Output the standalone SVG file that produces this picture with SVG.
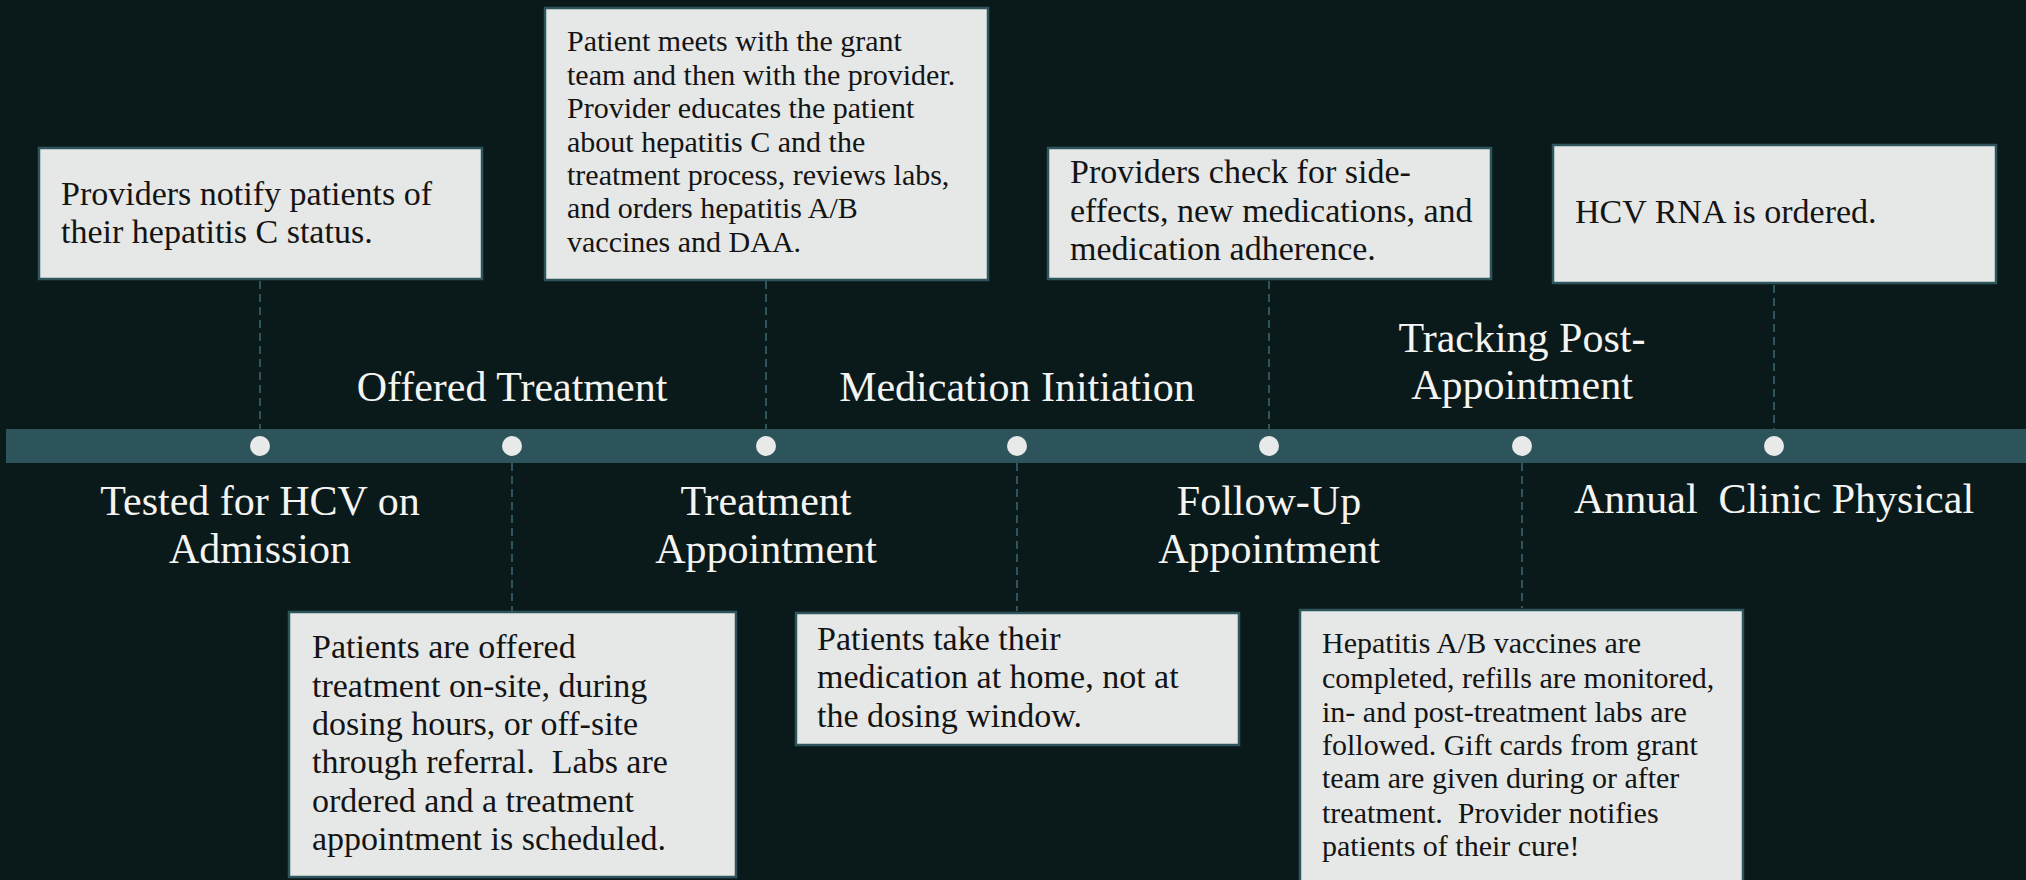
<svg xmlns="http://www.w3.org/2000/svg" width="2026" height="880" viewBox="0 0 2026 880">
  <style>
    .card { fill: #e6e8e7; stroke: #2f555c; stroke-width: 2.5; }
    .body { font-family: "Liberation Serif", "DejaVu Serif", serif; fill: #141414; }
    .b34 { font-size: 34px; }
    .b30 { font-size: 30px; }
    .stage { font-family: "Liberation Serif", "DejaVu Serif", serif; font-size: 42px; fill: #f4f4f2; text-anchor: middle; }
    .tick { stroke: #2f555c; stroke-width: 2; stroke-dasharray: 8 5; fill: none; }
    .dot { fill: #e8eaea; }
  </style>

  <!-- backdrop -->
  <rect x="0" y="0" width="2026" height="880" fill="#0a1a1a"/>

  <!-- timeline bar -->
  <rect id="timeline" x="6" y="429" width="2020" height="34" fill="#2e545b"/>

  <!-- dashed ticks from cards to the bar -->
  <g id="connectors">
    <line class="tick" x1="260" y1="281" x2="260" y2="429"/>
    <line class="tick" x1="512" y1="463" x2="512" y2="611"/>
    <line class="tick" x1="766" y1="281" x2="766" y2="429"/>
    <line class="tick" x1="1017" y1="463" x2="1017" y2="611"/>
    <line class="tick" x1="1269" y1="281" x2="1269" y2="429"/>
    <line class="tick" x1="1522" y1="463" x2="1522" y2="608"/>
    <line class="tick" x1="1774" y1="285" x2="1774" y2="429"/>
  </g>

  <!-- stage markers -->
  <g id="markers">
    <circle class="dot" cx="260" cy="446" r="10"/>
    <circle class="dot" cx="512" cy="446" r="10"/>
    <circle class="dot" cx="766" cy="446" r="10"/>
    <circle class="dot" cx="1017" cy="446" r="10"/>
    <circle class="dot" cx="1269" cy="446" r="10"/>
    <circle class="dot" cx="1522" cy="446" r="10"/>
    <circle class="dot" cx="1774" cy="446" r="10"/>
  </g>

  <!-- stage titles -->
  <g id="stage-tested">
    <text class="stage" x="260" y="515">Tested for HCV on</text>
    <text class="stage" x="260" y="563">Admission</text>
  </g>
  <g id="stage-offered">
    <text class="stage" x="512" y="401">Offered Treatment</text>
  </g>
  <g id="stage-appointment">
    <text class="stage" x="766" y="515">Treatment</text>
    <text class="stage" x="766" y="563">Appointment</text>
  </g>
  <g id="stage-initiation">
    <text class="stage" x="1017" y="401">Medication Initiation</text>
  </g>
  <g id="stage-followup">
    <text class="stage" x="1269" y="515">Follow-Up</text>
    <text class="stage" x="1269" y="563">Appointment</text>
  </g>
  <g id="stage-tracking">
    <text class="stage" x="1522" y="352">Tracking Post-</text>
    <text class="stage" x="1522" y="399">Appointment</text>
  </g>
  <g id="stage-annual">
    <text class="stage" x="1774" y="513" xml:space="preserve">Annual  Clinic Physical</text>
  </g>

  <!-- description cards -->
  <g id="card-notify">
    <rect class="card" x="39" y="148" width="443" height="131"/>
    <text class="body b34" x="61" y="205">Providers notify patients of</text>
    <text class="body b34" x="61" y="243">their hepatitis C status.</text>
  </g>

  <g id="card-education">
    <rect class="card" x="545" y="8" width="443" height="272"/>
    <text class="body b30" x="567" y="51">Patient meets with the grant</text>
    <text class="body b30" x="567" y="85">team and then with the provider.</text>
    <text class="body b30" x="567" y="118">Provider educates the patient</text>
    <text class="body b30" x="567" y="152">about hepatitis C and the</text>
    <text class="body b30" x="567" y="185">treatment process, reviews labs,</text>
    <text class="body b30" x="567" y="218">and orders hepatitis A/B</text>
    <text class="body b30" x="567" y="252">vaccines and DAA.</text>
  </g>

  <g id="card-sideeffects">
    <rect class="card" x="1048" y="148" width="443" height="131"/>
    <text class="body b34" x="1070" y="183">Providers check for side-</text>
    <text class="body b34" x="1070" y="222">effects, new medications, and</text>
    <text class="body b34" x="1070" y="260">medication adherence.</text>
  </g>

  <g id="card-rna">
    <rect class="card" x="1553" y="145" width="443" height="138"/>
    <text class="body b34" x="1575" y="223">HCV RNA is ordered.</text>
  </g>

  <g id="card-offered">
    <rect class="card" x="289" y="612" width="447" height="265"/>
    <text class="body b34" x="312" y="658">Patients are offered</text>
    <text class="body b34" x="312" y="697">treatment on-site, during</text>
    <text class="body b34" x="312" y="735">dosing hours, or off-site</text>
    <text class="body b34" x="312" y="773" xml:space="preserve">through referral.  Labs are</text>
    <text class="body b34" x="312" y="812">ordered and a treatment</text>
    <text class="body b34" x="312" y="850">appointment is scheduled.</text>
  </g>

  <g id="card-home">
    <rect class="card" x="796" y="613" width="443" height="132"/>
    <text class="body b34" x="817" y="650">Patients take their</text>
    <text class="body b34" x="817" y="688">medication at home, not at</text>
    <text class="body b34" x="817" y="727">the dosing window.</text>
  </g>

  <g id="card-tracking">
    <rect class="card" x="1300" y="610" width="443" height="280"/>
    <text class="body b30" x="1322" y="653">Hepatitis A/B vaccines are</text>
    <text class="body b30" x="1322" y="688">completed, refills are monitored,</text>
    <text class="body b30" x="1322" y="722">in- and post-treatment labs are</text>
    <text class="body b30" x="1322" y="755">followed. Gift cards from grant</text>
    <text class="body b30" x="1322" y="788">team are given during or after</text>
    <text class="body b30" x="1322" y="823" xml:space="preserve">treatment.  Provider notifies</text>
    <text class="body b30" x="1322" y="856">patients of their cure!</text>
  </g>
</svg>
